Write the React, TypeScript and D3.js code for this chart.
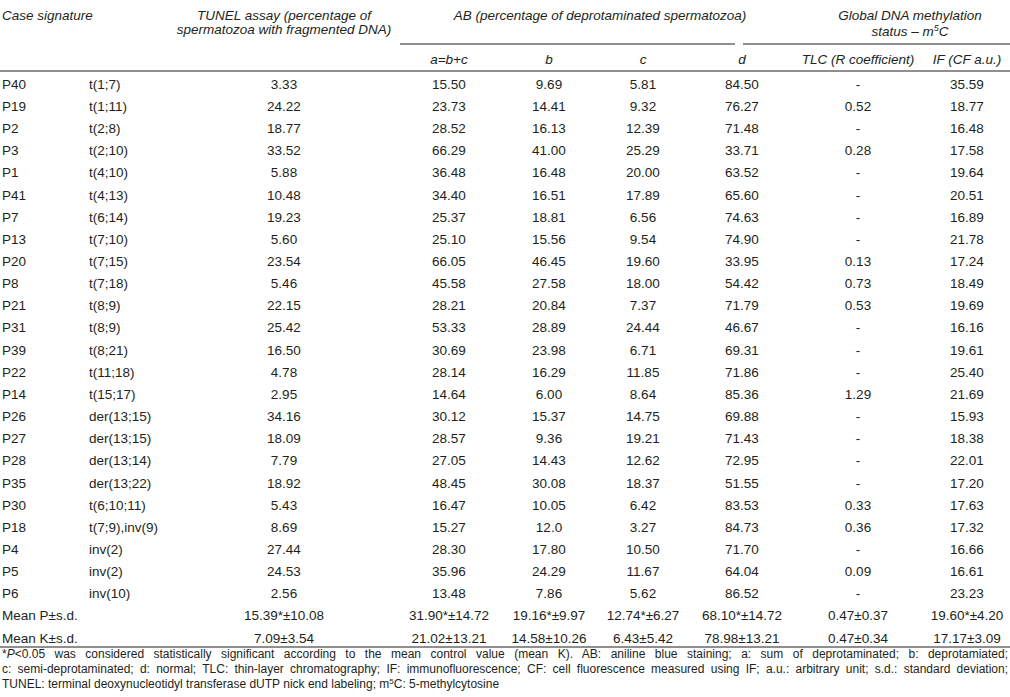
import React, { useEffect, useRef } from "react";
import * as d3 from "d3";

const caseIds = ["P40","P19","P2","P3","P1","P41","P7","P13","P20","P8","P21","P31","P39","P22","P14","P26","P27","P28","P35","P30","P18","P4","P5","P6"];
const karyotypes = ["t(1;7)","t(1;11)","t(2;8)","t(2;10)","t(4;10)","t(4;13)","t(6;14)","t(7;10)","t(7;15)","t(7;18)","t(8;9)","t(8;9)","t(8;21)","t(11;18)","t(15;17)","der(13;15)","der(13;15)","der(13;14)","der(13;22)","t(6;10;11)","t(7;9),inv(9)","inv(2)","inv(2)","inv(10)"];
const tunel = ["3.33","24.22","18.77","33.52","5.88","10.48","19.23","5.60","23.54","5.46","22.15","25.42","16.50","4.78","2.95","34.16","18.09","7.79","18.92","5.43","8.69","27.44","24.53","2.56"];
const abA = ["15.50","23.73","28.52","66.29","36.48","34.40","25.37","25.10","66.05","45.58","28.21","53.33","30.69","28.14","14.64","30.12","28.57","27.05","48.45","16.47","15.27","28.30","35.96","13.48"];
const abB = ["9.69","14.41","16.13","41.00","16.48","16.51","18.81","15.56","46.45","27.58","20.84","28.89","23.98","16.29","6.00","15.37","9.36","14.43","30.08","10.05","12.0","17.80","24.29","7.86"];
const abC = ["5.81","9.32","12.39","25.29","20.00","17.89","6.56","9.54","19.60","18.00","7.37","24.44","6.71","11.85","8.64","14.75","19.21","12.62","18.37","6.42","3.27","10.50","11.67","5.62"];
const abD = ["84.50","76.27","71.48","33.71","63.52","65.60","74.63","74.90","33.95","54.42","71.79","46.67","69.31","71.86","85.36","69.88","71.43","72.95","51.55","83.53","84.73","71.70","64.04","86.52"];
const tlc = ["-","0.52","-","0.28","-","-","-","-","0.13","0.73","0.53","-","-","-","1.29","-","-","-","-","0.33","0.36","-","0.09","-"];
const ifVals = ["35.59","18.77","16.48","17.58","19.64","20.51","16.89","21.78","17.24","18.49","19.69","16.16","19.61","25.40","21.69","15.93","18.38","22.01","17.20","17.63","17.32","16.66","16.61","23.23"];

const meanLabels = ["Mean P±s.d.", "Mean K±s.d."];
const meanP = ["15.39*±10.08","31.90*±14.72","19.16*±9.97","12.74*±6.27","68.10*±14.72","0.47±0.37","19.60*±4.20"];
const meanK = ["7.09±3.54","21.02±13.21","14.58±10.26","6.43±5.42","78.98±13.21","0.47±0.34","17.17±3.09"];

const subHeaders = ["a=b+c","b","c","d","TLC (R coefficient)","IF (CF a.u.)"];
const footLines = [
  "P<0.05 was considered statistically significant according to the mean control value (mean K). AB: aniline blue staining; a: sum of deprotaminated; b: deprotamiated;",
  "c: semi-deprotaminated; d: normal; TLC: thin-layer chromatography; IF: immunofluorescence; CF: cell fluorescence measured using IF; a.u.: arbitrary unit; s.d.: standard deviation;",
  "TUNEL: terminal deoxynucleotidyl transferase dUTP nick end labeling; m",
];

const W = 1010, H = 697;
const FONT = "'Liberation Sans', Arial, sans-serif";

export default function App() {
  const footRef = useRef<SVGGElement | null>(null);
  useEffect(() => {
    document.body.style.margin = "0";
    const g = footRef.current;
    if (!g) return;
    const texts = Array.from(g.querySelectorAll("text.just")) as SVGTextElement[];
    texts.forEach((t) => {
      t.setAttribute("word-spacing", "0");
      const natural = t.getComputedTextLength();
      const target = 1006;
      const content = t.textContent || "";
      const spaces = (content.match(/ /g) || []).length;
      if (spaces > 0) t.setAttribute("word-spacing", String((target - natural) / spaces));
    });
  }, []);

  const rowY = d3.scaleLinear().domain([0, 1]).range([84, 84 + 22.15]);
  const colX = [284, 449, 549, 643, 742, 858, 967];
  const cols = [tunel, abA, abB, abC, abD, tlc, ifVals];
  const fs = 13.5;
  const off = 4.8;

  return (
    <svg width={W} height={H} style={{ display: "block", background: "#fff" }} fontFamily={FONT} fontSize={fs} fill="#231f20">
      <g fontStyle="italic">
        <text x={2} y={15 + off}>Case signature</text>
        <text x={colX[0]} y={15 + off} textAnchor="middle">TUNEL assay (percentage of</text>
        <text x={colX[0]} y={29 + off} textAnchor="middle">spermatozoa with fragmented DNA)</text>
        <text x={600} y={15 + off} textAnchor="middle">AB (percentage of deprotaminated spermatozoa)</text>
        <text x={910} y={15 + off} textAnchor="middle">Global DNA methylation</text>
        <text x={910} y={31 + off} textAnchor="middle">status – m<tspan fontSize={9} dy={-5}>5</tspan><tspan dy={5}>C</tspan></text>
        {subHeaders.map((s, i) => (
          <text key={s} x={colX[i + 1]} y={59 + off} textAnchor="middle">{s}</text>
        ))}
      </g>
      <line x1={400} x2={735} y1={44} y2={44} stroke="#231f20" strokeWidth={1} />
      <line x1={743} x2={1010} y1={44} y2={44} stroke="#231f20" strokeWidth={1} />
      <line x1={0} x2={1010} y1={71} y2={71} stroke="#231f20" strokeWidth={1.2} />

      {caseIds.map((id, i) => (
        <g key={id + i}>
          <text x={2} y={rowY(i) + off}>{id}</text>
          <text x={89} y={rowY(i) + off}>{karyotypes[i]}</text>
          {cols.map((c, j) => (
            <text key={j} x={colX[j]} y={rowY(i) + off} textAnchor="middle">{c[i]}</text>
          ))}
        </g>
      ))}
      {[meanP, meanK].map((row, k) => (
        <g key={k}>
          <text x={2} y={rowY(24 + k) + off}>{meanLabels[k]}</text>
          {row.map((v, j) => (
            <text key={j} x={colX[j]} y={rowY(24 + k) + off} textAnchor="middle">{v}</text>
          ))}
        </g>
      ))}
      <line x1={0} x2={1010} y1={647} y2={647} stroke="#231f20" strokeWidth={1.2} />

      <g ref={footRef} fontSize={12}>
        <text className="just" x={2} y={657.5}>*<tspan fontStyle="italic">P</tspan>{footLines[0].slice(1)}</text>
        <text className="just" x={2} y={672.5}>{footLines[1]}</text>
        <text x={2} y={687.5}>{footLines[2]}<tspan fontSize={8} dy={-4}>5</tspan><tspan dy={4}>C: 5-methylcytosine</tspan></text>
      </g>
    </svg>
  );
}
